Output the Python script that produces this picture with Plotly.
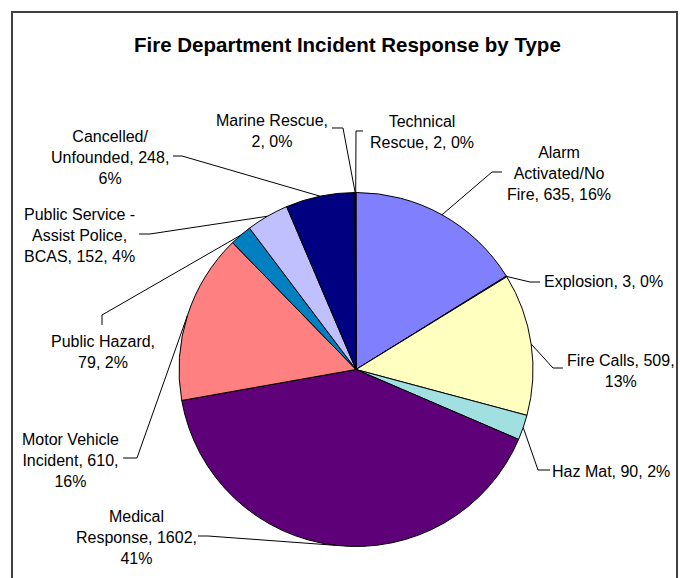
import numpy as np
import plotly.graph_objects as go

# Incident counts by type, in drawing order (clockwise from 12 o'clock)
categories = [
    "Alarm Activated/No Fire", "Explosion", "Fire Calls", "Haz Mat",
    "Medical Response", "Motor Vehicle Incident", "Public Hazard",
    "Public Service - Assist Police, BCAS", "Cancelled/ Unfounded",
    "Marine Rescue", "Technical Rescue",
]
counts = [635, 3, 509, 90, 1602, 610, 79, 152, 248, 2, 2]

# Label text as laid out on the chart (line breaks)
label_lines = [
    ["Alarm", "Activated/No", "Fire, {v}, {p}"],
    ["Explosion, {v}, {p}"],
    ["Fire Calls, {v},", "{p}"],
    ["Haz Mat, {v}, {p}"],
    ["Medical", "Response, {v},", "{p}"],
    ["Motor Vehicle", "Incident, {v},", "{p}"],
    ["Public Hazard,", "{v}, {p}"],
    ["Public Service -", "Assist Police,", "BCAS, {v}, {p}"],
    ["Cancelled/", "Unfounded, {v},", "{p}"],
    ["Marine Rescue,", "{v}, {p}"],
    ["Technical", "Rescue, {v}, {p}"],
]

colors = ["#8080FF", "#993366", "#FFFFC0", "#A0E0E0", "#5E0078", "#FF8080",
          "#0080C0", "#C0C0FF", "#000080", "#FF00FF", "#FFFF00"]

W, H = 680, 578
CX, CY, R = 356, 369.5, 177

# label block centres (px) and leader-line bend/end points (px)
label_pos = [(559, 173), (603.5, 282), (621, 371), (611, 471), (136, 537),
             (70, 460.5), (102.5, 351.5), (79.5, 235.5), (110, 157.5),
             (272, 131), (422, 131.5)]
leader_pts = [
    [(492, 172), (502, 172)],
    [(530, 282), (540, 282)],
    [(553, 368), (563, 368)],
    [(538, 470), (550, 470)],
    [(208, 536), (198, 536)],
    [(137, 458), (123, 458)],
    [(102, 315), (102, 325)],
    [(150, 234), (139, 234)],
    [(182, 156), (173, 156)],
    [(343, 128), (332, 128)],
    [(356, 131), (363, 131)],
]


def px(x):
    return x / W


def py(y):
    return 1 - y / H


FONT = "Liberation Sans, Arial, sans-serif"

fig = go.Figure(go.Pie(
    labels=categories,
    values=counts,
    sort=False,
    direction="clockwise",
    rotation=0,
    textinfo="none",
    hoverinfo="label+value+percent",
    marker=dict(colors=colors, line=dict(color="#000000", width=1)),
    domain=dict(x=[px(CX - R), px(CX + R)], y=[py(CY + R), py(CY - R)]),
    showlegend=False,
))

total = float(np.sum(counts))
cum = np.cumsum([0] + counts)
annotations = []
shapes = []
for i, v in enumerate(counts):
    pct = "{:.0f}%".format(100 * v / total)
    text = "<br>".join(s.format(v=v, p=pct) for s in label_lines[i])
    lx, ly = label_pos[i]
    annotations.append(dict(
        x=px(lx), y=py(ly), xref="paper", yref="paper", text=text,
        showarrow=False, xanchor="center", yanchor="middle", align="center",
        font=dict(family=FONT, size=16, color="#000000"),
    ))
    # leader line from the slice's mid-angle on the rim to the label
    mid = np.deg2rad(360 * (cum[i] + v / 2) / total)
    sx, sy = CX + R * np.sin(mid), CY - R * np.cos(mid)
    pts = [(sx, sy)] + leader_pts[i]
    path = "M " + " L ".join("{:.5f},{:.5f}".format(px(a), py(b)) for a, b in pts)
    shapes.append(dict(type="path", xref="paper", yref="paper", path=path,
                       line=dict(color="#000000", width=1)))

# chart-area border
shapes.append(dict(type="rect", xref="paper", yref="paper",
                   x0=px(12), x1=px(677), y0=py(600), y1=py(12),
                   line=dict(color="#404040", width=2)))

annotations.append(dict(
    x=px(347.5), y=py(44), xref="paper", yref="paper",
    text="<b>Fire Department Incident Response by Type</b>",
    showarrow=False, xanchor="center", yanchor="middle",
    font=dict(family=FONT, size=20.5, color="#000000"),
))

fig.update_layout(
    width=W, height=H,
    margin=dict(l=0, r=0, t=0, b=0),
    paper_bgcolor="#FFFFFF",
    plot_bgcolor="#FFFFFF",
    annotations=annotations,
    shapes=shapes,
)

fig.write_html("out.html")
